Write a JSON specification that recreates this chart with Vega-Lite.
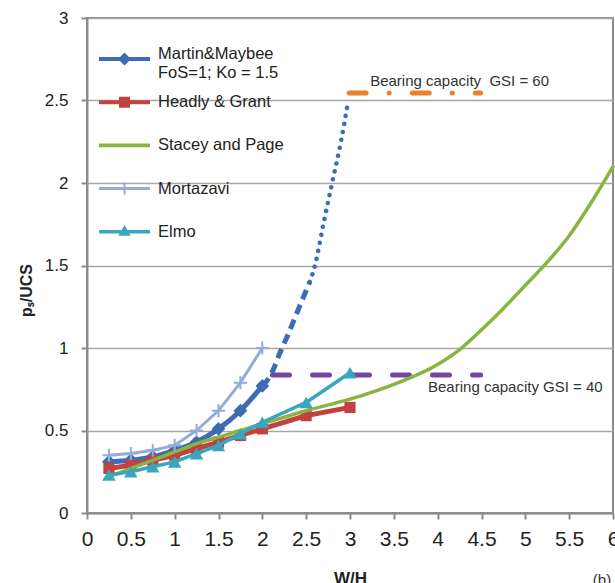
{
  "$schema": "https://vega.github.io/schema/vega-lite/v6.json",
  "width": 526,
  "height": 495,
  "autosize": {"type": "none"},
  "padding": {"left": 87, "top": 18, "right": 2, "bottom": 70},
  "background": "white",
  "config": {
    "font": "Liberation Sans",
    "view": {"stroke": "#8c8c8c", "strokeWidth": 2},
    "axis": {
      "labelColor": "#222222",
      "labelFont": "Liberation Sans",
      "titleFont": "Liberation Sans",
      "titleColor": "#222222",
      "domainColor": "#8c8c8c",
      "domainWidth": 2,
      "tickColor": "#8c8c8c",
      "tickWidth": 2,
      "tickSize": 6,
      "gridColor": "#a6a6a6",
      "gridWidth": 1.5
    }
  },
  "datasets": {
    "curves": [
      {"s": "Martin&Maybee", "x": 0.25, "y": 0.31},
      {"s": "Martin&Maybee", "x": 0.5, "y": 0.32},
      {"s": "Martin&Maybee", "x": 0.75, "y": 0.34},
      {"s": "Martin&Maybee", "x": 1, "y": 0.38},
      {"s": "Martin&Maybee", "x": 1.25, "y": 0.43},
      {"s": "Martin&Maybee", "x": 1.5, "y": 0.51},
      {"s": "Martin&Maybee", "x": 1.75, "y": 0.62},
      {"s": "Martin&Maybee", "x": 2, "y": 0.77},
      {"s": "Headly & Grant", "x": 0.25, "y": 0.27},
      {"s": "Headly & Grant", "x": 0.5, "y": 0.29},
      {"s": "Headly & Grant", "x": 0.75, "y": 0.32},
      {"s": "Headly & Grant", "x": 1, "y": 0.35},
      {"s": "Headly & Grant", "x": 1.25, "y": 0.39},
      {"s": "Headly & Grant", "x": 1.5, "y": 0.43},
      {"s": "Headly & Grant", "x": 1.75, "y": 0.47},
      {"s": "Headly & Grant", "x": 2, "y": 0.51},
      {"s": "Headly & Grant", "x": 2.5, "y": 0.59},
      {"s": "Headly & Grant", "x": 3, "y": 0.64},
      {"s": "Stacey and Page", "x": 0.25, "y": 0.22},
      {"s": "Stacey and Page", "x": 0.5, "y": 0.27},
      {"s": "Stacey and Page", "x": 0.75, "y": 0.32},
      {"s": "Stacey and Page", "x": 1, "y": 0.37},
      {"s": "Stacey and Page", "x": 1.25, "y": 0.42},
      {"s": "Stacey and Page", "x": 1.5, "y": 0.46},
      {"s": "Stacey and Page", "x": 1.75, "y": 0.5},
      {"s": "Stacey and Page", "x": 2, "y": 0.54},
      {"s": "Stacey and Page", "x": 2.5, "y": 0.62},
      {"s": "Stacey and Page", "x": 3, "y": 0.69},
      {"s": "Stacey and Page", "x": 3.5, "y": 0.78},
      {"s": "Stacey and Page", "x": 4, "y": 0.9},
      {"s": "Stacey and Page", "x": 4.25, "y": 0.99},
      {"s": "Stacey and Page", "x": 4.5, "y": 1.11},
      {"s": "Stacey and Page", "x": 4.75, "y": 1.24},
      {"s": "Stacey and Page", "x": 5, "y": 1.38},
      {"s": "Stacey and Page", "x": 5.25, "y": 1.52},
      {"s": "Stacey and Page", "x": 5.5, "y": 1.68},
      {"s": "Stacey and Page", "x": 5.75, "y": 1.88},
      {"s": "Stacey and Page", "x": 6, "y": 2.1},
      {"s": "Mortazavi", "x": 0.25, "y": 0.35},
      {"s": "Mortazavi", "x": 0.5, "y": 0.36},
      {"s": "Mortazavi", "x": 0.75, "y": 0.38},
      {"s": "Mortazavi", "x": 1, "y": 0.41},
      {"s": "Mortazavi", "x": 1.25, "y": 0.5},
      {"s": "Mortazavi", "x": 1.5, "y": 0.62},
      {"s": "Mortazavi", "x": 1.75, "y": 0.79},
      {"s": "Mortazavi", "x": 2, "y": 1.0},
      {"s": "Elmo", "x": 0.25, "y": 0.23},
      {"s": "Elmo", "x": 0.5, "y": 0.25},
      {"s": "Elmo", "x": 0.75, "y": 0.28},
      {"s": "Elmo", "x": 1, "y": 0.31},
      {"s": "Elmo", "x": 1.25, "y": 0.36},
      {"s": "Elmo", "x": 1.5, "y": 0.41},
      {"s": "Elmo", "x": 1.75, "y": 0.48},
      {"s": "Elmo", "x": 2, "y": 0.55},
      {"s": "Elmo", "x": 2.5, "y": 0.67},
      {"s": "Elmo", "x": 3, "y": 0.85}
    ],
    "martinExt": [
      {"s": "Martin&Maybee", "part": "dashed", "x": 2, "y": 0.77},
      {"s": "Martin&Maybee", "part": "dashed", "x": 2.1, "y": 0.84},
      {"s": "Martin&Maybee", "part": "dashed", "x": 2.2, "y": 0.97},
      {"s": "Martin&Maybee", "part": "dashed", "x": 2.3, "y": 1.09},
      {"s": "Martin&Maybee", "part": "dashed", "x": 2.4, "y": 1.22},
      {"s": "Martin&Maybee", "part": "dashed", "x": 2.54, "y": 1.4},
      {"s": "Martin&Maybee", "part": "dotted", "x": 2.54, "y": 1.4},
      {"s": "Martin&Maybee", "part": "dotted", "x": 2.6, "y": 1.5},
      {"s": "Martin&Maybee", "part": "dotted", "x": 2.7, "y": 1.76},
      {"s": "Martin&Maybee", "part": "dotted", "x": 2.8, "y": 2.01},
      {"s": "Martin&Maybee", "part": "dotted", "x": 2.9, "y": 2.26},
      {"s": "Martin&Maybee", "part": "dotted", "x": 2.98, "y": 2.5}
    ],
    "caps": [
      {"s": "GSI 40", "x": 2.116, "y": 0.836},
      {"s": "GSI 40", "x": 4.49, "y": 0.836},
      {"s": "GSI 60", "x": 2.99, "y": 2.545},
      {"s": "GSI 60", "x": 4.49, "y": 2.545}
    ],
    "notes": [
      {"x": 3.23, "y": 2.62, "label": "Bearing capacity\u00a0\u00a0GSI = 60"},
      {"x": 3.89, "y": 0.764, "label": "Bearing capacity GSI = 40"},
      {"x": 5.77, "y": -0.406, "label": "(b)"}
    ]
  },
  "encoding": {
    "x": {
      "field": "x",
      "type": "quantitative",
      "scale": {"domain": [0, 6], "nice": false, "zero": false},
      "axis": {
        "values": [0, 0.5, 1, 1.5, 2, 2.5, 3, 3.5, 4, 4.5, 5, 5.5, 6],
        "format": ".1~f",
        "grid": false,
        "labelFontSize": 21,
        "labelPadding": 9,
        "labelFlush": false,
        "labelOverlap": false,
        "title": "W/H",
        "titleFontSize": 17,
        "titleFontWeight": "bold",
        "titleBaseline": "top",
        "titleY": 57
      }
    },
    "y": {
      "field": "y",
      "type": "quantitative",
      "scale": {"domain": [0, 3], "nice": false, "zero": false},
      "axis": {
        "values": [0, 0.5, 1, 1.5, 2, 2.5, 3],
        "format": ".1~f",
        "grid": true,
        "labelFontSize": 17,
        "labelPadding": 13,
        "title": "pₛ/UCS",
        "titleFontSize": 16,
        "titleFontWeight": "bold",
        "titleAngle": -90,
        "titleAlign": "center",
        "titleBaseline": "middle",
        "titleX": -61,
        "titleY": 272
      }
    }
  },
  "layer": [
    {
      "data": {"name": "curves"},
      "transform": [{"filter": "false"}],
      "mark": {"type": "point", "filled": true, "opacity": 1},
      "encoding": {
        "color": {
          "field": "s",
          "type": "nominal",
          "scale": {
            "domain": ["Martin&Maybee", "Headly & Grant", "Stacey and Page", "Mortazavi", "Elmo"],
            "range": ["#3a6db4", "#c0433f", "#8ab43f", "#93acdb", "#3aa6bd"]
          },
          "legend": {
            "title": null,
            "orient": "none",
            "legendX": 17.5,
            "legendY": 21,
            "symbolSize": 1600,
            "symbolStrokeWidth": 0,
            "symbolType": {"expr": "datum.value == 'Martin&Maybee' ? 'M-1.275,-0.1H1.275V0.1H-1.275Z M0,-0.325L0.325,0L0,0.325L-0.325,0Z' : datum.value == 'Headly & Grant' ? 'M-1.275,-0.1H1.275V0.1H-1.275Z M-0.275,-0.275H0.275V0.275H-0.275Z' : datum.value == 'Stacey and Page' ? 'M-1.275,-0.09H1.275V0.09H-1.275Z' : datum.value == 'Mortazavi' ? 'M-1.275,-0.075H1.275V0.075H-1.275Z M-0.05,-0.3H0.05V0.3H-0.05Z' : 'M-1.275,-0.09H1.275V0.09H-1.275Z M0,-0.34L0.31,0.2H-0.31Z'"},
            "labelFont": "Liberation Sans",
            "labelFontSize": 16.5,
            "labelColor": "#222222",
            "labelOffset": 13.5,
            "labelLimit": 300,
            "labelBaseline": {"expr": "datum.value == 'Martin&Maybee' ? 'alphabetic' : 'middle'"},
            "rowPadding": 1.2,
            "gridAlign": "all",
            "padding": 0,
            "labelExpr": "datum.label == 'Martin&Maybee' ? ['Martin&Maybee', 'FoS=1; Ko = 1.5'] : datum.label"
          }
        }
      }
    },
    {
      "data": {"name": "caps"},
      "transform": [{"filter": "datum.s == 'GSI 40'"}],
      "mark": {"type": "line", "strokeWidth": 5, "strokeDash": [17, 23], "strokeCap": "round"},
      "encoding": {
        "stroke": {
          "field": "s", "type": "nominal",
          "scale": {"domain": ["GSI 40", "GSI 60"], "range": ["#7446a0", "#e8822e"]},
          "legend": null
        }
      }
    },
    {
      "data": {"name": "caps"},
      "transform": [{"filter": "datum.s == 'GSI 60'"}],
      "mark": {"type": "line", "strokeWidth": 5, "strokeDash": [17, 23, 0.1, 23], "strokeCap": "round"},
      "encoding": {
        "stroke": {
          "field": "s", "type": "nominal",
          "scale": {"domain": ["GSI 40", "GSI 60"], "range": ["#7446a0", "#e8822e"]},
          "legend": null
        }
      }
    },
    {
      "data": {"name": "martinExt"},
      "transform": [{"filter": "datum.part == 'dashed'"}],
      "mark": {"type": "line", "strokeWidth": 5, "strokeDash": [10, 6], "interpolate": "monotone"},
      "encoding": {"color": {"value": "#3a6db4"}}
    },
    {
      "data": {"name": "martinExt"},
      "transform": [{"filter": "datum.part == 'dotted'"}],
      "mark": {"type": "line", "strokeWidth": 4.5, "strokeDash": [0.1, 8], "strokeCap": "round", "interpolate": "monotone"},
      "encoding": {"color": {"value": "#3a6db4"}}
    },
    {
      "data": {"name": "curves"},
      "transform": [{"filter": "datum.s == 'Martin&Maybee'"}],
      "mark": {"type": "line", "strokeWidth": 5, "strokeCap": "round", "strokeJoin": "round", "interpolate": "monotone"},
      "encoding": {"color": {"value": "#3a6db4"}}
    },
    {
      "data": {"name": "curves"},
      "transform": [{"filter": "datum.s == 'Martin&Maybee'"}],
      "mark": {"type": "point", "shape": "diamond", "filled": true, "size": 190, "opacity": 1},
      "encoding": {"color": {"value": "#3a6db4"}}
    },
    {
      "data": {"name": "curves"},
      "transform": [{"filter": "datum.s == 'Headly & Grant'"}],
      "mark": {"type": "line", "strokeWidth": 5, "strokeCap": "round", "strokeJoin": "round"},
      "encoding": {"color": {"value": "#c0433f"}}
    },
    {
      "data": {"name": "curves"},
      "transform": [{"filter": "datum.s == 'Headly & Grant'"}],
      "mark": {"type": "point", "shape": "square", "filled": true, "size": 125, "opacity": 1},
      "encoding": {"color": {"value": "#c0433f"}}
    },
    {
      "data": {"name": "curves"},
      "transform": [{"filter": "datum.s == 'Stacey and Page'"}],
      "mark": {"type": "line", "strokeWidth": 3.5, "strokeCap": "round", "interpolate": "monotone"},
      "encoding": {"color": {"value": "#8ab43f"}}
    },
    {
      "data": {"name": "curves"},
      "transform": [{"filter": "datum.s == 'Mortazavi'"}],
      "mark": {"type": "line", "strokeWidth": 3, "strokeCap": "round", "strokeJoin": "round"},
      "encoding": {"color": {"value": "#93acdb"}}
    },
    {
      "data": {"name": "curves"},
      "transform": [{"filter": "datum.s == 'Mortazavi'"}],
      "mark": {"type": "point", "shape": "M-1,0H1M0,-1V1", "filled": false, "size": 170, "strokeWidth": 2, "opacity": 1},
      "encoding": {"color": {"value": "#93acdb"}}
    },
    {
      "data": {"name": "curves"},
      "transform": [{"filter": "datum.s == 'Elmo'"}],
      "mark": {"type": "line", "strokeWidth": 3.5, "strokeCap": "round", "strokeJoin": "round"},
      "encoding": {"color": {"value": "#3aa6bd"}}
    },
    {
      "data": {"name": "curves"},
      "transform": [{"filter": "datum.s == 'Elmo'"}],
      "mark": {"type": "point", "shape": "triangle-up", "filled": true, "size": 180, "opacity": 1},
      "encoding": {"color": {"value": "#3aa6bd"}}
    },
    {
      "data": {"name": "notes"},
      "mark": {"type": "text", "align": "left", "baseline": "middle", "font": "Liberation Sans", "fontSize": 15, "color": "#333333"},
      "encoding": {"text": {"field": "label"}}
    }
  ]
}
